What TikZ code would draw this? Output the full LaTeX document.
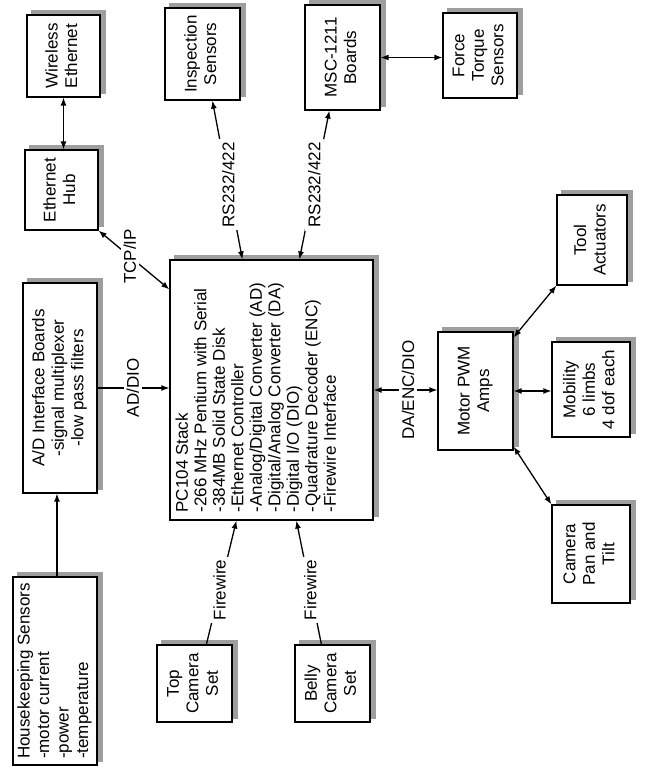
\documentclass[tikz,border=0pt]{standalone}
\usepackage{fontspec}
\setmainfont{Liberation Sans}
\usetikzlibrary{arrows.meta,calc,backgrounds}
\newcommand\rtxt[2]{\rotatebox{90}{\begin{tabular}{@{}#1@{}}#2\end{tabular}}}
\begin{document}
\begin{tikzpicture}[x=1pt,y=-1pt,
  every node/.style={font=\fontsize{17}{19.5}\selectfont},
  box/.style={draw, line width=1.2pt, fill=white, inner sep=0pt},
  shade/.style={fill=black!38},
  conn/.style={line width=1.3pt, >={Latex[length=8pt,width=6pt]}},
  lbl/.style={rotate=90, fill=white, inner sep=3pt}]
\useasboundingbox (0,0) rectangle (647,773);
% boxes
\node[box, minimum width=73pt, minimum height=82pt] (wire) at (63.5,56) {\rtxt{c}{Wireless\\Ethernet}};
\node[box, minimum width=73pt, minimum height=80pt] (hub) at (61.5,190) {\rtxt{c}{Ethernet\\Hub}};
\node[box, minimum width=75pt, minimum height=92pt] (insp) at (202.5,54) {\rtxt{c}{Inspection\\Sensors}};
\node[box, minimum width=75pt, minimum height=105pt] (msc) at (342.5,57.5) {\rtxt{c}{MSC-1211\\Boards}};
\node[box, minimum width=74pt, minimum height=85pt] (force) at (480,55.5) {\rtxt{c}{Force\\Torque\\Sensors}};
\node[box, minimum width=74pt, minimum height=210pt] (adib) at (60,388) {\rtxt{c}{A/D Interface Boards\\-signal multiplexer\\-low pass filters}};
\node[box, minimum width=203pt, minimum height=260pt] (pc) at (271.5,390) {};
\node[rotate=90, anchor=north west, align=left, inner sep=0pt, font=\fontsize{17}{18.5}\selectfont] (pctext) at ($(pc.south west)+(6,-8)$) {PC104 Stack\\-266 MHz Pentium with Serial\\-384MB Solid State Disk\\-Ethernet Controller\\-Analog/Digital Converter (AD)\\-Digital/Analog Converter (DA)\\-Digital I/O (DIO)\\-Quadrature Decoder (ENC)\\-Firewire Interface};
\node[box, minimum width=75pt, minimum height=118pt] (motor) at (475.5,391) {\rtxt{c}{Motor PWM\\Amps}};
\node[box, minimum width=70pt, minimum height=90pt] (tool) at (592,240) {\rtxt{c}{Tool\\Actuators}};
\node[box, minimum width=78pt, minimum height=95pt] (mob) at (591,389.5) {\rtxt{c}{Mobility\\6 limbs\\4 dof each}};
\node[box, minimum width=78pt, minimum height=98pt] (cam) at (591,554) {\rtxt{c}{Camera\\Pan and\\Tilt}};
\node[box, minimum width=84pt, minimum height=188pt] (house) at (55,671) {\rtxt{l}{Housekeeping Sensors\\-motor current\\-power\\-temperature}};
\node[box, minimum width=75pt, minimum height=77pt] (top) at (194.5,683.5) {\rtxt{c}{Top\\Camera\\Set}};
\node[box, minimum width=75pt, minimum height=77pt] (belly) at (332.5,683.5) {\rtxt{c}{Belly\\Camera\\Set}};
% shadows
\begin{scope}[on background layer]
\fill[white] (0,0) rectangle (647,773);
\foreach \n in {wire,hub,insp,msc,force,adib,pc,motor,tool,mob,cam,house,top,belly}
  \fill[shade] ($(\n.south west)+(5,-4)$) rectangle ($(\n.north east)+(5,-4)$);
\end{scope}
% connectors
\draw[conn,<->] (wire.south) -- (wire.south |- hub.north);
\draw[conn,<->] (hub.south east) -- node[lbl,pos=0.44]{TCP/IP} ($(pc.north west)+(0,30)$);
\draw[conn,<->] ($(insp.south west)+(48,0)$) -- node[lbl,pos=0.53]{RS232/422} ($(pc.north west)+(73,0)$);
\draw[conn,<->] ($(msc.south west)+(25,0)$) -- node[lbl,pos=0.5]{RS232/422} ($(pc.north west)+(130,0)$);
\draw[conn,<->] (msc.east) -- (msc.east -| force.west);
\draw[conn,->] (adib.east) -- node[lbl,pos=0.49]{AD/DIO} (adib.east -| pc.west);
\coordinate (hk) at (57,577);
\draw[conn,->] (hk) -- (hk |- adib.south);
\draw[conn,->] ($(top.north west)+(50,0)$) -- node[lbl,pos=0.44]{Firewire} ($(pc.south west)+(67,0)$);
\draw[conn,->] ($(belly.north west)+(27,0)$) -- node[lbl,pos=0.44]{Firewire} ($(pc.south west)+(127,0)$);
\draw[conn,<->] (pc.east) -- node[lbl,pos=0.54]{DA/ENC/DIO} (pc.east -| motor.west);
\draw[conn,<->] ($(motor.north east)+(0,6)$) -- (tool.south west);
\draw[conn,<->] (motor.east) -- (motor.east -| mob.west);
\draw[conn,<->] ($(motor.south east)+(0,-4)$) -- (cam.north west);
\end{tikzpicture}
\end{document}
